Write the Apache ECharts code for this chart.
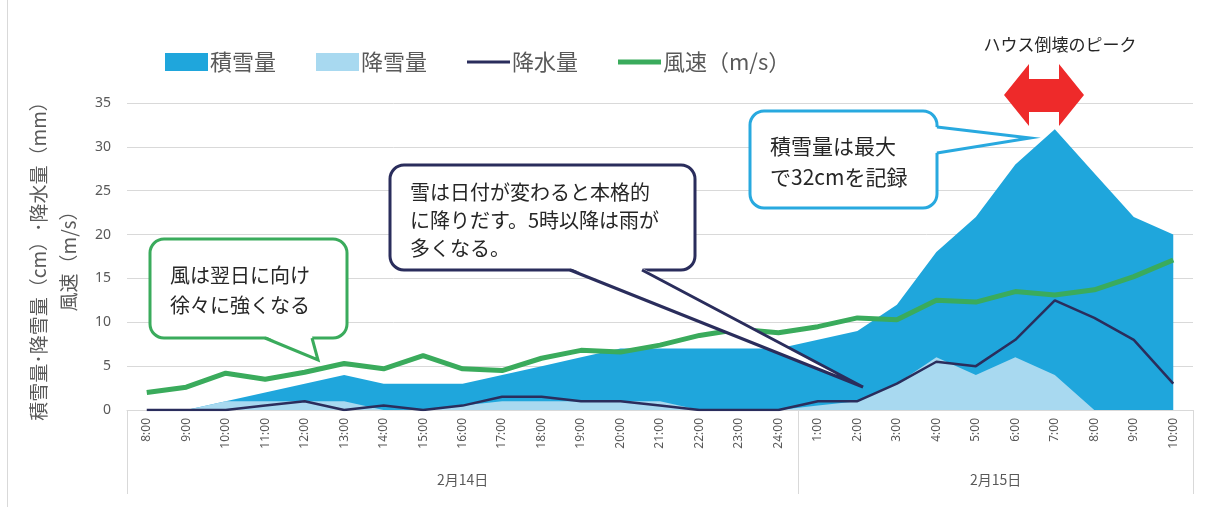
<!DOCTYPE html>
<html>
<head>
<meta charset="utf-8">
<script src="https://cdn.jsdelivr.net/npm/echarts@6/dist/echarts.min.js"></script>
<style>
  html, body { margin: 0; padding: 0; background: #fff; }
  #chart { width: 1206px; height: 507px; }
</style>
</head>
<body>
<div id="chart"></div>
<script>
// 時刻（2/14 8:00 〜 2/15 10:00）
const hours = ['8:00', '9:00', '10:00', '11:00', '12:00', '13:00', '14:00', '15:00', '16:00',
  '17:00', '18:00', '19:00', '20:00', '21:00', '22:00', '23:00', '24:00',
  '1:00', '2:00', '3:00', '4:00', '5:00', '6:00', '7:00', '8:00', '9:00', '10:00'];
const dayLabels = ['2月14日', '2月15日'];
const daySpans = [17, 10]; // 各日の時刻数

const snowDepth = [0, 0, 1, 2, 3, 4, 3, 3, 3, 4, 5, 6, 7, 7, 7, 7, 7,
  8, 9, 12, 18, 22, 28, 32, 27, 22, 20];           // 積雪量 cm
const snowFall = [0, 0, 1, 1, 1, 1, 0, 0, 0.5, 1, 1, 1, 1, 1, 0, 0, 0,
  0.5, 1, 3, 6, 4, 6, 4, 0, 0, 0];                  // 降雪量 cm
const rain = [0, 0, 0, 0.5, 1, 0, 0.5, 0, 0.5, 1.5, 1.5, 1, 1, 0.5, 0, 0, 0,
  1, 1, 3, 5.5, 5, 8, 12.5, 10.5, 8, 3];            // 降水量 mm
const wind = [2.0, 2.6, 4.2, 3.5, 4.3, 5.3, 4.7, 6.2, 4.7, 4.5, 5.9, 6.8, 6.6, 7.4, 8.5, 9.2, 8.8,
  9.5, 10.5, 10.3, 12.5, 12.3, 13.5, 13.1, 13.7, 15.2, 17.1]; // 風速 m/s

const JP = '"Noto Sans CJK JP", sans-serif';
const GRAY = '#595959';
const GRID_LINE = '#d9d9d9';

const chart = echarts.init(document.getElementById('chart'));

const option = {
  backgroundColor: '#fff',
  animation: false,
  textStyle: { fontFamily: JP },
  legend: {
    left: 160,
    top: 46,
    itemWidth: 43,
    itemHeight: 18,
    itemGap: 40,
    textStyle: { fontSize: 22, color: GRAY, fontFamily: JP, padding: [0, 0, 0, -3] },
    data: [
      { name: '積雪量', icon: 'rect' },
      { name: '降雪量', icon: 'rect' },
      { name: '降水量', icon: 'path://M0 0H100V7H0Z' },
      { name: '風速（m/s）', icon: 'path://M0 0H100V12H0Z' }
    ]
  },
  grid: { left: 127, right: 13, top: 103, bottom: 97 },
  xAxis: {
    type: 'category',
    data: hours,
    boundaryGap: true,
    axisLine: { lineStyle: { color: GRID_LINE } },
    axisTick: { show: false },
    axisLabel: { rotate: 90, interval: 0, fontSize: 12, color: GRAY, margin: 8, fontFamily: 'Noto Sans' }
  },
  yAxis: {
    type: 'value',
    min: 0,
    max: 35,
    interval: 5,
    name: '積雪量･降雪量（cm）･降水量（mm）\n風速（m/s）',
    nameLocation: 'middle',
    nameGap: 42,
    nameTextStyle: { fontSize: 19, color: GRAY, lineHeight: 30, fontFamily: JP },
    axisLine: { show: false },
    axisTick: { show: false },
    axisLabel: { fontSize: 14, color: GRAY, margin: 16, fontFamily: 'Noto Sans' },
    splitLine: { lineStyle: { color: GRID_LINE } }
  },
  series: [
    {
      name: '積雪量', type: 'line', data: snowDepth, symbol: 'none', z: 1,
      lineStyle: { width: 0 }, itemStyle: { color: '#1fa6dc' },
      areaStyle: { color: '#1fa6dc', opacity: 1 }
    },
    {
      name: '降雪量', type: 'line', data: snowFall, symbol: 'none', z: 2,
      lineStyle: { width: 0 }, itemStyle: { color: '#a8d9f0' },
      areaStyle: { color: '#a8d9f0', opacity: 1 }
    },
    {
      name: '降水量', type: 'line', data: rain, symbol: 'none', z: 3,
      itemStyle: { color: '#2a2d5c' }, lineStyle: { color: '#2a2d5c', width: 2.5 }
    },
    {
      name: '風速（m/s）', type: 'line', data: wind, symbol: 'none', z: 4,
      itemStyle: { color: '#3aab5c' }, lineStyle: { color: '#3aab5c', width: 5 }
    }
  ]
};
chart.setOption(option);

// 吹き出し（角丸の箱＋しっぽ）
function callout(box, tail, color, text, fontSize, lineHeight, textPos) {
  const els = [];
  els.push({
    type: 'rect', z: 100,
    shape: { x: box.x, y: box.y, width: box.w, height: box.h, r: 14 },
    style: { fill: '#fff', stroke: color, lineWidth: 3 }
  });
  let fillPts, linePts;
  if (tail.side === 'bottom') {
    const by = box.y + box.h;
    fillPts = [[tail.a, by - 2], [tail.tx, tail.ty], [tail.b, by - 2]];
    linePts = [[tail.a, by], [tail.tx, tail.ty], [tail.b, by]];
  } else {
    const bx = box.x + box.w;
    fillPts = [[bx - 2, tail.a], [tail.tx, tail.ty], [bx - 2, tail.b]];
    linePts = [[bx, tail.a], [tail.tx, tail.ty], [bx, tail.b]];
  }
  els.push({ type: 'polygon', z: 101, shape: { points: fillPts }, style: { fill: '#fff', stroke: null } });
  els.push({ type: 'polyline', z: 102, shape: { points: linePts }, style: { stroke: color, lineWidth: 3, fill: null, lineJoin: 'miter' } });
  els.push({
    type: 'text', z: 103, x: textPos[0], y: textPos[1],
    style: { text: text, fill: '#262626', fontSize: fontSize, fontFamily: JP, lineHeight: lineHeight, verticalAlign: 'top' }
  });
  return els;
}

function buildGraphic() {
  const els = [];
  const cx = i => chart.convertToPixel({ xAxisIndex: 0 }, i);
  const band = cx(1) - cx(0);
  const axisY = chart.convertToPixel({ yAxisIndex: 0 }, 0);
  const bottomY = 494;

  // 日付の区切りとラベル
  let start = 0;
  const edges = [cx(0) - band / 2];
  daySpans.forEach((n, k) => {
    const x0 = cx(start) - band / 2;
    const x1 = cx(start + n - 1) + band / 2;
    edges.push(x1);
    els.push({
      type: 'text', z: 50, x: (x0 + x1) / 2, y: 480,
      style: { text: dayLabels[k], fill: GRAY, fontSize: 14, fontFamily: JP, align: 'center', verticalAlign: 'middle' }
    });
    start += n;
  });
  edges.forEach(x => {
    els.push({
      type: 'line', z: 50,
      shape: { x1: Math.round(x) + 0.5, y1: axisY, x2: Math.round(x) + 0.5, y2: bottomY },
      style: { stroke: GRID_LINE, lineWidth: 1 }
    });
  });

  // 左端の枠線
  els.push({ type: 'line', z: 50, shape: { x1: 7.5, y1: 0, x2: 7.5, y2: 507 }, style: { stroke: GRID_LINE, lineWidth: 1 } });

  // 吹き出し
  els.push(...callout({ x: 150, y: 239, w: 197, h: 99 }, { side: 'bottom', a: 265, b: 312, tx: 318, ty: 360 },
    '#3aab5c', '風は翌日に向け\n徐々に強くなる', 20, 30, [170, 260]));
  els.push(...callout({ x: 390, y: 165, w: 305, h: 105 }, { side: 'bottom', a: 570, b: 642, tx: 863, ty: 387 },
    '#2a2d5c', '雪は日付が変わると本格的\nに降りだす。5時以降は雨が\n多くなる。', 20, 28, [410, 178]));
  els.push(...callout({ x: 750, y: 111, w: 187, h: 97 }, { side: 'right', a: 127, b: 153, tx: 1030, ty: 138 },
    '#28a9df', '積雪量は最大\nで32cmを記録', 21, 31, [770, 131]));

  // ハウス倒壊のピーク（赤い両矢印）
  els.push({
    type: 'polygon', z: 100,
    shape: {
      points: [[1004, 95], [1029, 64], [1029, 79], [1059, 79], [1059, 64], [1084, 95],
        [1059, 126], [1059, 112], [1029, 112], [1029, 126]]
    },
    style: { fill: '#ee2a2a' }
  });
  els.push({
    type: 'text', z: 100, x: 1060, y: 45,
    style: { text: 'ハウス倒壊のピーク', fill: '#262626', fontSize: 17, fontFamily: JP, align: 'center', verticalAlign: 'middle' }
  });
  return els;
}

chart.setOption({ graphic: buildGraphic() });
</script>
</body>
</html>
